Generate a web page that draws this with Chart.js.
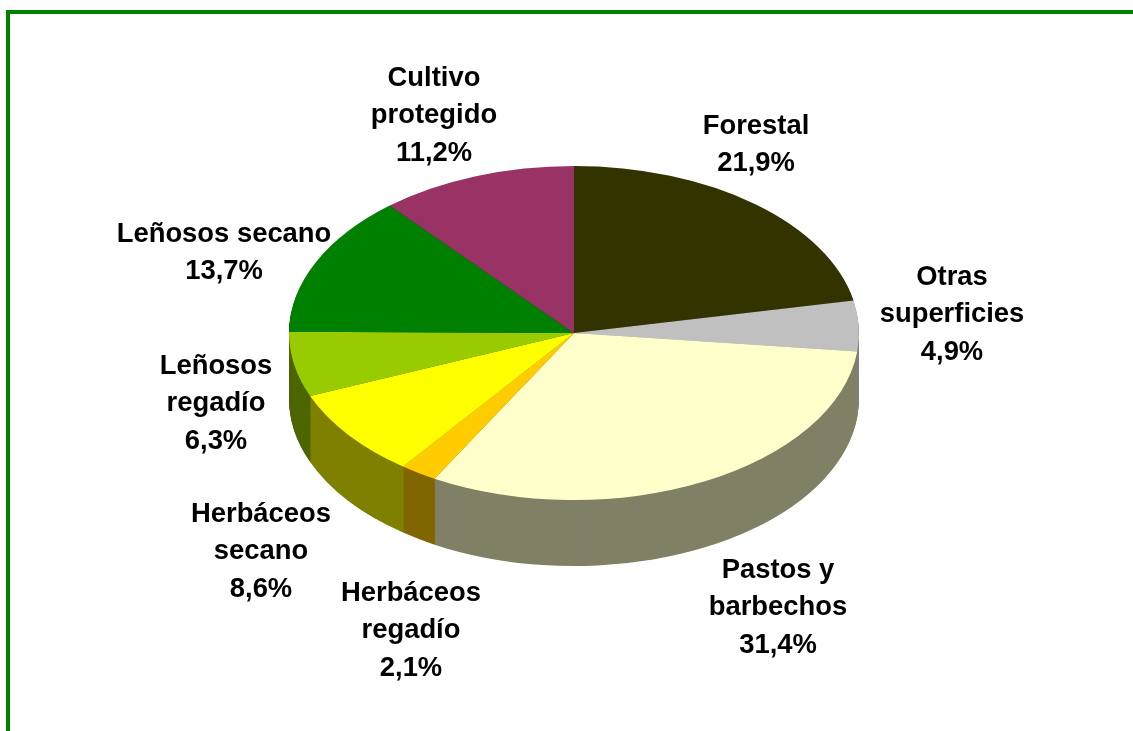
<!DOCTYPE html>
<html lang="es">
<head>
<meta charset="utf-8">
<title>Superficie</title>
<script src="https://cdn.jsdelivr.net/npm/chart.js@4"></script>
<style>
    html, body { margin: 0; padding: 0; background: #fff; overflow: hidden; }
    #frame {
        position: absolute;
        left: 6px;
        top: 10px;
        right: 0;
        bottom: 0;
        border-top: 4px solid #008000;
        border-left: 4px solid #008000;
    }
    #pie { position: absolute; left: 0; top: 0; }
</style>
</head>
<body>
<div id="frame"></div>
<canvas id="pie" width="1133" height="731"></canvas>
<script>
// Data
const categories = [
    ["Forestal"],
    ["Otras", "superficies"],
    ["Pastos y", "barbechos"],
    ["Herbáceos", "regadío"],
    ["Herbáceos", "secano"],
    ["Leñosos", "regadío"],
    ["Leñosos secano"],
    ["Cultivo", "protegido"]
];
const shares = [21.9, 4.9, 31.4, 2.1, 8.6, 6.3, 13.7, 11.2];
const topColors = ["#333300", "#C0C0C0", "#FFFFCC", "#FFCC00", "#FFFF00", "#99CC00", "#008000", "#993366"];
const sideColors = ["#1A1A00", "#808080", "#808066", "#806600", "#808000", "#4D6600", "#004000", "#4D1A33"];

// Centre x and first line y of each label
const labelX = [756, 952, 778, 411, 261, 216, 224, 434];
const labelY = [126, 277, 570, 593, 514, 366, 234, 78];

// Tilt of the pie and height of the side wall
const tilt = 0.586;
const depth = 66;
const lineHeight = 37.7;

function tiltContext(ctx, centerY) {
    ctx.translate(0, centerY);
    ctx.scale(1, tilt);
    ctx.translate(0, -centerY);
}

// Squashes the pie to an ellipse and paints the wall below it
const tiltedPie = {
    id: "tiltedPie",
    beforeDatasetsDraw(chart) {
        const ctx = chart.ctx;
        const arcs = chart.getDatasetMeta(0).data;
        const centerY = arcs[0].y;
        for (let d = depth; d > 0; d--) {
            ctx.save();
            ctx.translate(0, d);
            tiltContext(ctx, centerY);
            arcs.forEach((arc, i) => {
                ctx.beginPath();
                ctx.moveTo(arc.x, arc.y);
                ctx.arc(arc.x, arc.y, arc.outerRadius, arc.startAngle, arc.endAngle);
                ctx.closePath();
                ctx.fillStyle = sideColors[i];
                ctx.fill();
            });
            ctx.restore();
        }
        ctx.save();
        tiltContext(ctx, centerY);
    },
    afterDatasetsDraw(chart) {
        chart.ctx.restore();
    }
};

const sliceLabels = {
    id: "sliceLabels",
    afterDraw(chart) {
        const ctx = chart.ctx;
        ctx.save();
        ctx.font = "bold 27.4px 'Liberation Sans', Arial, sans-serif";
        ctx.fillStyle = "#000";
        ctx.textAlign = "center";
        ctx.textBaseline = "middle";
        categories.forEach((lines, i) => {
            const text = lines.concat(shares[i].toFixed(1).replace(".", ",") + "%");
            text.forEach((line, n) => {
                ctx.fillText(line, labelX[i], labelY[i] + n * lineHeight);
            });
        });
        ctx.restore();
    }
};

new Chart(document.getElementById("pie"), {
    type: "pie",
    data: {
        labels: categories,
        datasets: [{
            data: shares,
            backgroundColor: topColors,
            borderWidth: 0
        }]
    },
    options: {
        responsive: false,
        animation: false,
        layout: { padding: { left: 289, right: 274, top: 48, bottom: 113 } },
        plugins: {
            legend: { display: false },
            tooltip: { enabled: false }
        }
    },
    plugins: [tiltedPie, sliceLabels]
});
</script>
</body>
</html>
